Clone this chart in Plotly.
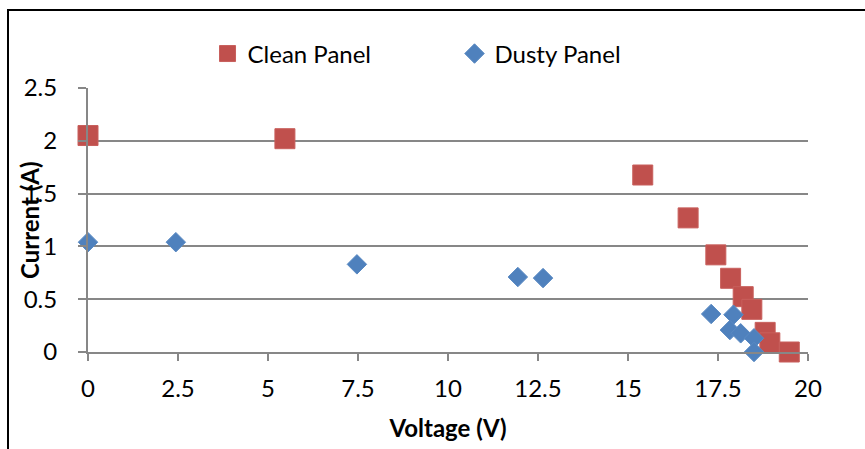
import plotly.graph_objects as go

# I-V measurements of the solar panel
clean_voltage = [0.0, 5.47, 15.41, 16.67, 17.44, 17.85, 18.2, 18.44, 18.81, 18.94, 19.48]
clean_current = [2.05, 2.02, 1.676, 1.27, 0.92, 0.698, 0.524, 0.404, 0.186, 0.087, 0.0]

dusty_voltage = [0.0, 2.44, 7.47, 11.94, 12.64, 17.31, 17.93, 17.83, 18.13, 18.5, 18.5]
dusty_current = [1.04, 1.04, 0.83, 0.71, 0.70, 0.36, 0.353, 0.208, 0.177, 0.13, 0.0]

x_ticks = [0, 2.5, 5, 7.5, 10, 12.5, 15, 17.5, 20]
y_ticks = [0, 0.5, 1, 1.5, 2, 2.5]

FONT = "Lato, 'Open Sans', sans-serif"
GRID = "#878787"

fig = go.Figure()
fig.add_trace(go.Scatter(
    x=clean_voltage, y=clean_current, mode="markers", name="Clean Panel",
    marker=dict(symbol="square", size=20, color="#C0504D",
                line=dict(color="#C85F5C", width=1)),
    cliponaxis=False,
))
fig.add_trace(go.Scatter(
    x=dusty_voltage, y=dusty_current, mode="markers", name="Dusty Panel",
    marker=dict(symbol="diamond", size=15, color="#4F81BD",
                line=dict(color="#5A8AC3", width=1)),
    cliponaxis=False,
))

fig.update_layout(
    width=865, height=449,
    margin=dict(l=88, r=57, t=88, b=97),
    paper_bgcolor="white", plot_bgcolor="white",
    font=dict(family=FONT, size=24, color="black"),
    showlegend=True,
    legend=dict(
        orientation="h", x=0.166, xanchor="left", y=1.129, yanchor="middle",
        font=dict(family=FONT, size=24, color="black"),
        entrywidthmode="pixels", entrywidth=202,
        bgcolor="rgba(0,0,0,0)",
    ),
    xaxis=dict(
        range=[0, 20], tickvals=x_ticks, ticktext=[f"{v:g}" for v in x_ticks],
        showgrid=False, zeroline=False,
        showline=True, linecolor=GRID, linewidth=2,
        ticks="outside", ticklen=7, tickcolor=GRID, tickwidth=2,
        tickfont=dict(family=FONT, size=24, color="black"),
        ticklabelstandoff=7,
        title=dict(text="<b>Voltage (V)</b>", standoff=19,
                   font=dict(family=FONT, size=24, color="black")),
        automargin=False,
    ),
    yaxis=dict(
        range=[0, 2.5], tickvals=y_ticks, ticktext=[f"{v:g}" for v in y_ticks],
        showgrid=True, gridcolor=GRID, gridwidth=2, zeroline=False,
        showline=True, linecolor=GRID, linewidth=2,
        ticks="outside", ticklen=8, tickcolor=GRID, tickwidth=2,
        tickfont=dict(family=FONT, size=24, color="black"),
        ticklabelstandoff=16,
        automargin=False,
    ),
    annotations=[dict(
        text="<b>Current (A)</b>", textangle=-90,
        xref="paper", yref="paper", x=(29 - 88) / 720, y=0.5,
        xanchor="center", yanchor="middle", showarrow=False,
        font=dict(family=FONT, size=24, color="black"),
    )],
    shapes=[dict(
        type="rect", xref="paper", yref="paper",
        x0=(8 - 88) / 720, x1=(880 - 88) / 720,
        y0=(352 - 470) / 264, y1=(352 - 10) / 264,
        line=dict(color="black", width=2), fillcolor="rgba(0,0,0,0)",
        layer="below",
    )],
)

fig.write_html("out.html")
